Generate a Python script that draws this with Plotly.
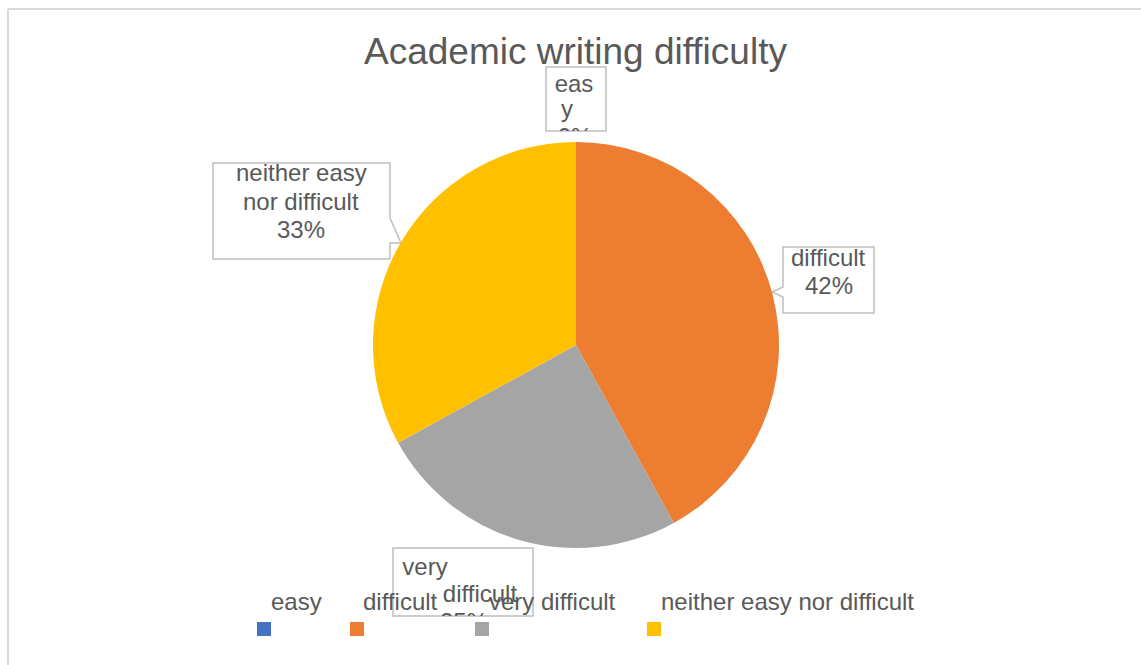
import plotly.graph_objects as go

# Survey answers: how difficult academic writing is
categories = ["easy", "difficult", "very difficult", "neither easy nor difficult"]
shares = [0, 42, 25, 33]
colors = ["#4472C4", "#ED7D31", "#A5A5A5", "#FFC000"]

W, H = 1141, 665
TEXT = "#595959"
FONT = "Liberation Sans, Arial, sans-serif"
BOX = "#BFBFBF"
LABEL_SIZE = 24


def px(x):
    return x / W


def py(y):
    return 1 - y / H


def pct(i):
    return f"{shares[i]}%"


fig = go.Figure()

# pie centred at (576, 345) with radius 203 px
fig.add_trace(go.Pie(
    labels=categories, values=shares, sort=False, direction="clockwise",
    rotation=0, textinfo="none", showlegend=False,
    marker=dict(colors=colors, line=dict(width=0)),
    domain=dict(x=[px(373), px(779)], y=[py(548), py(142)]),
))

shapes = []
annotations = []

# chart frame (top and left edges visible)
shapes.append(dict(type="line", xref="paper", yref="paper", x0=px(8), x1=1.0,
                   y0=py(9), y1=py(9), line=dict(color="#D9D9D9", width=2)))
shapes.append(dict(type="line", xref="paper", yref="paper", x0=px(8), x1=px(8),
                   y0=py(9), y1=0.0, line=dict(color="#D9D9D9", width=2)))


def box_path(points):
    d = "M " + " L ".join(f"{px(x):.5f},{py(y):.5f}" for x, y in points) + " Z"
    return dict(type="path", xref="paper", yref="paper", path=d, layer="below",
                fillcolor="white", line=dict(color=BOX, width=1.5))


# data label callouts
shapes.append(box_path([(546, 67), (606, 67), (606, 131), (546, 131)]))
shapes.append(box_path([(213, 163), (390, 163), (390, 218), (401, 243),
                        (390, 243), (390, 259), (213, 259)]))
shapes.append(box_path([(783, 247), (874, 247), (874, 313), (783, 313),
                        (783, 297), (772, 292), (783, 287)]))
shapes.append(box_path([(393, 548), (533, 548), (533, 616), (393, 616)]))


def label(x, y, text, size=LABEL_SIZE, xanchor="center"):
    annotations.append(dict(x=px(x), y=py(y), xref="paper", yref="paper",
                            text=text, showarrow=False, xanchor=xanchor,
                            yanchor="middle", font=dict(family=FONT, size=size, color=TEXT)))


label(301, 173, "neither easy")
label(301, 201, "nor difficult")
label(301, 229, pct(3))
label(829, 257, "difficult")
label(829, 285, pct(1))

# labels that are clipped by their callout boxes, drawn on small overlay axes
clip_boxes = [
    ((546, 606, 67, 131), [(574, 86, "eas"), (567, 111, "y"), (575, 139, pct(0))]),
    ((393, 533, 548, 616), [(425, 569, "very"), (480, 596, "difficult"), (464, 624, pct(2))]),
]
for k, ((x0, x1, y0, y1), lines) in enumerate(clip_boxes, start=2):
    fig.add_trace(go.Scatter(
        x=[l[0] for l in lines], y=[l[1] for l in lines], text=[l[2] for l in lines],
        mode="text", textposition="middle center", cliponaxis=True, showlegend=False,
        hoverinfo="skip", textfont=dict(family=FONT, size=LABEL_SIZE, color=TEXT),
        xaxis=f"x{k}", yaxis=f"y{k}",
    ))
    fig.layout[f"xaxis{k}"] = dict(domain=[px(x0), px(x1)], range=[x0, x1], visible=False,
                                   fixedrange=True, anchor=f"y{k}")
    fig.layout[f"yaxis{k}"] = dict(domain=[py(y1), py(y0)], range=[y1, y0], visible=False,
                                   fixedrange=True, anchor=f"x{k}")

# title
label(575, 52, "Academic writing difficulty", size=37)

# legend: names above coloured squares
legend_text_x = [269, 361, 487, 659]
legend_swatch_x = [257, 350, 475, 647]
for name, col, tx, sx in zip(categories, colors, legend_text_x, legend_swatch_x):
    label(tx, 601, name, xanchor="left")
    shapes.append(dict(type="rect", xref="paper", yref="paper", x0=px(sx), x1=px(sx + 14),
                       y0=py(636), y1=py(622), fillcolor=col, line=dict(width=0)))

fig.update_layout(
    width=W, height=H, margin=dict(l=0, r=0, t=0, b=0),
    paper_bgcolor="white", plot_bgcolor="rgba(0,0,0,0)",
    shapes=shapes, annotations=annotations, showlegend=False,
)

fig.write_html("out.html")
